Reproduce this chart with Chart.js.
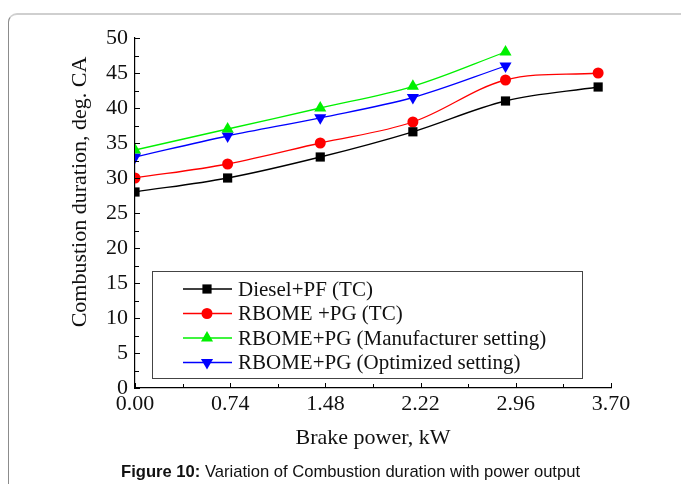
<!DOCTYPE html>
<html>
<head>
<meta charset="utf-8">
<script src="https://cdn.jsdelivr.net/npm/chart.js@4/dist/chart.umd.min.js"></script>
<style>
  html, body { margin: 0; padding: 0; background: #fff; }
  body { width: 681px; height: 484px; position: relative; overflow: hidden; }
  #card {
    position: absolute; left: 8px; top: 13px; width: 720px; height: 520px;
    border: 2px solid #cfcfcf; border-left: 1.5px solid #8c8c8c; border-radius: 9px;
    box-sizing: border-box;
  }
  #wrap { position: absolute; left: 0; top: 0; width: 681px; height: 484px; }
  #caption {
    position: absolute; left: 121px; top: 462px; white-space: nowrap;
    font-family: "Liberation Sans", Arial, sans-serif; font-size: 16.6px; color: #111;
  }
</style>
</head>
<body>
<div id="card"></div>
<div id="wrap"><canvas id="chart" width="681" height="484"></canvas></div>
<div id="caption"><b>Figure 10:</b> Variation of Combustion duration with power output</div>
<script>
const power = [0, 0.72, 1.44, 2.16, 2.88, 3.6]
const dieselPF = [28, 30, 33, 36.6, 41, 43]
const rbomeTC = [30, 32, 35, 38, 44, 45]
const rbomeManuf = [34, 37, 40, 43.1, 48]
const rbomeOpt = [33, 36, 38.6, 41.5, 46]

const xTicks = [0, 0.37, 0.74, 1.11, 1.48, 1.85, 2.22, 2.59, 2.96, 3.33, 3.70]
const xTickLabels = ['0.00', '', '0.74', '', '1.48', '', '2.22', '', '2.96', '', '3.70']
const yTicks = [0, 2.5, 5, 7.5, 10, 12.5, 15, 17.5, 20, 22.5, 25, 27.5, 30, 32.5, 35, 37.5, 40, 42.5, 45, 47.5, 50]

const serif = '"Liberation Serif", "Times New Roman", serif'

const pts = (ys) => ys.map((y, i) => ({ x: power[i], y: y }))

function series (label, data, color, style, radius, rotation) {
  return {
    label: label,
    data: pts(data),
    borderColor: color,
    backgroundColor: color,
    borderWidth: 1.3,
    pointStyle: style,
    pointRadius: radius,
    pointRotation: rotation || 0,
    pointBorderWidth: 0,
    tension: 0.35
  }
}

// ticks pointing inward, and the legend box inside the plot
const framePlugin = {
  id: 'frame',
  afterDraw (chart) {
    const ctx = chart.ctx
    const xs = chart.scales.x
    const ys = chart.scales.y
    const a = chart.chartArea
    ctx.save()
    ctx.strokeStyle = '#000'
    ctx.lineWidth = 1
    ctx.beginPath()
    xTicks.forEach((v, i) => {
      const px = Math.round(xs.getPixelForValue(v)) + 0.5
      const len = i % 2 === 0 ? 5 : 4
      ctx.moveTo(px, a.bottom)
      ctx.lineTo(px, a.bottom - len)
    })
    yTicks.forEach((v, i) => {
      const py = Math.round(ys.getPixelForValue(v)) + 0.5
      const len = i % 2 === 0 ? 5 : 4
      ctx.moveTo(a.left, py)
      ctx.lineTo(a.left + len, py)
    })
    ctx.stroke()

    // y title
    ctx.fillStyle = '#111'
    ctx.font = '22px ' + serif
    ctx.textAlign = 'center'
    ctx.textBaseline = 'middle'
    ctx.translate(80, 192)
    ctx.rotate(-Math.PI / 2)
    ctx.fillText('Combustion duration, deg. CA', 0, 0)
    ctx.restore()

    // legend
    ctx.save()
    const bx = a.left + 17
    const by = 271
    const bw = 430
    const bh = 107
    ctx.fillStyle = '#fff'
    ctx.fillRect(bx, by, bw, bh)
    ctx.strokeStyle = '#444'
    ctx.lineWidth = 1
    ctx.strokeRect(bx + 0.5, by + 0.5, bw, bh)
    ctx.font = '21px ' + serif
    ctx.textAlign = 'left'
    ctx.textBaseline = 'middle'
    chart.data.datasets.forEach((ds, i) => {
      const y = 289 + i * 24.5
      ctx.strokeStyle = ds.borderColor
      ctx.lineWidth = 1.3
      ctx.beginPath()
      ctx.moveTo(bx + 31, y)
      ctx.lineTo(bx + 80, y)
      ctx.stroke()
      ctx.fillStyle = ds.backgroundColor
      Chart.helpers.drawPoint(ctx, {
        pointStyle: ds.pointStyle,
        radius: ds.pointRadius,
        rotation: ds.pointRotation,
        borderWidth: 0
      }, bx + 55, y)
      ctx.fillStyle = '#111'
      ctx.fillText(ds.label, bx + 86, y + 1)
    })
    ctx.restore()
  }
}

new Chart(document.getElementById('chart'), {
  type: 'line',
  data: {
    datasets: [
      series('Diesel+PF (TC)', dieselPF, '#000000', 'rect', 6.5),
      series('RBOME +PG (TC)', rbomeTC, '#ff0000', 'circle', 5.5),
      series('RBOME+PG (Manufacturer setting)', rbomeManuf, '#00f000', 'triangle', 7),
      series('RBOME+PG (Optimized setting)', rbomeOpt, '#0000ff', 'triangle', 7, 180)
    ]
  },
  options: {
    responsive: false,
    animation: false,
    devicePixelRatio: 1,
    layout: { padding: { left: 0, right: 70, top: 38, bottom: 29 } },
    scales: {
      x: {
        type: 'linear',
        min: 0,
        max: 3.7,
        afterBuildTicks: (s) => { s.ticks = xTicks.map((v) => ({ value: v })) },
        afterFit: (s) => { s.height = 67 },
        grid: { drawOnChartArea: false, drawTicks: false },
        border: { display: true, color: '#000', width: 1.2 },
        ticks: {
          autoSkip: false,
          maxRotation: 0,
          padding: 3,
          color: '#111',
          font: { family: serif, size: 22 },
          callback: (v, i) => xTickLabels[i]
        },
        title: {
          display: true,
          text: 'Brake power, kW',
          color: '#111',
          font: { family: serif, size: 22 },
          padding: { top: 4, bottom: 4 }
        }
      },
      y: {
        min: 0,
        max: 50,
        afterBuildTicks: (s) => { s.ticks = yTicks.map((v) => ({ value: v })) },
        afterFit: (s) => { s.width = 135 },
        grid: { drawOnChartArea: false, drawTicks: false },
        border: { display: true, color: '#000', width: 1.2 },
        ticks: {
          autoSkip: false,
          padding: 7,
          color: '#111',
          font: { family: serif, size: 22 },
          callback: (v) => (v % 5 === 0 ? String(v) : '')
        }
      }
    },
    plugins: {
      legend: { display: false },
      tooltip: { enabled: false }
    }
  },
  plugins: [framePlugin]
})
</script>
</body>
</html>
